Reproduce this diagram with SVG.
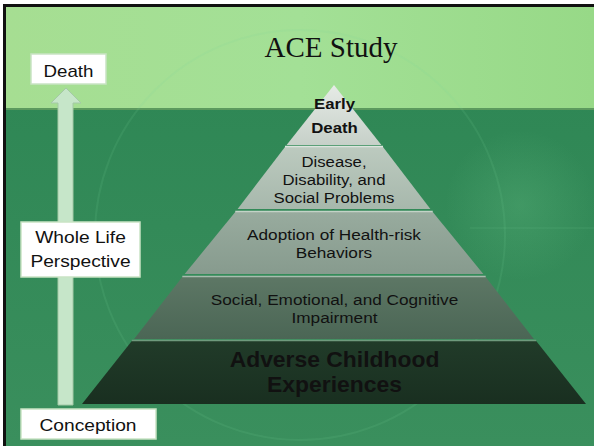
<svg xmlns="http://www.w3.org/2000/svg" width="594" height="446" viewBox="0 0 594 446">
<defs>
<style>
.sans{font-family:"Liberation Sans",Arial,sans-serif;fill:#111;}
.box{fill:#ffffff;stroke:#c9e3c4;stroke-width:1.5;}
.lvl{font-size:15.5px;}
.deco{fill:none;stroke:#7fd59a;stroke-opacity:0.12;stroke-width:2;}
</style>
<linearGradient id="band" x1="0" y1="0" x2="1" y2="0">
<stop offset="0" stop-color="#a6de92"/>
<stop offset="0.5" stop-color="#a3e096"/>
<stop offset="1" stop-color="#97d987"/>
</linearGradient>
<linearGradient id="dark" x1="0" y1="0" x2="0" y2="1">
<stop offset="0" stop-color="#2c8553"/>
<stop offset="1" stop-color="#3a8f5d"/>
</linearGradient>
<radialGradient id="blob" cx="0.5" cy="0.5" r="0.5">
<stop offset="0" stop-color="#6cc48a" stop-opacity="0.25"/>
<stop offset="1" stop-color="#6cc48a" stop-opacity="0"/>
</radialGradient>
<linearGradient id="g1" x1="0" y1="0" x2="0" y2="1"><stop offset="0" stop-color="#e6ebe6"/><stop offset="1" stop-color="#c6d0c8"/></linearGradient>
<linearGradient id="g2" x1="0" y1="0" x2="0" y2="1"><stop offset="0" stop-color="#bccabf"/><stop offset="1" stop-color="#a7b8ac"/></linearGradient>
<linearGradient id="g3" x1="0" y1="0" x2="0" y2="1"><stop offset="0" stop-color="#98ab9e"/><stop offset="1" stop-color="#879b8e"/></linearGradient>
<linearGradient id="g4" x1="0" y1="0" x2="0" y2="1"><stop offset="0" stop-color="#5d7765"/><stop offset="1" stop-color="#4b6655"/></linearGradient>
<linearGradient id="g5" x1="0" y1="0" x2="0" y2="1"><stop offset="0" stop-color="#213b29"/><stop offset="1" stop-color="#192f20"/></linearGradient>
</defs>

<g id="background">
<rect x="0" y="0" width="594" height="446" fill="#ffffff"/>
<rect x="6" y="6" width="588" height="440" fill="url(#dark)"/>
<rect x="6" y="6" width="588" height="103" fill="url(#band)"/>
<line x1="6" y1="109" x2="594" y2="109" stroke="#5c9a5e" stroke-width="2"/>
<circle class="deco" cx="300" cy="235" r="205"/>
<circle cx="520" cy="205" r="75" fill="url(#blob)"/>
<line x1="470" y1="228" x2="594" y2="228" stroke="#7fd59a" stroke-opacity="0.12" stroke-width="1.5"/>
<path d="M4.5 446 V5.5 H594" fill="none" stroke="#111" stroke-width="3"/>
</g>

<g id="title">
<text x="331" y="57" font-family="'Liberation Serif','Times New Roman',serif" font-size="29" fill="#111" text-anchor="middle">ACE Study</text>
</g>

<g id="connectors">
<path d="M58 405 V103 H51 L66 88 L81 103 H73 V405 Z" fill="#c6e6c9" stroke="#a4c9a6" stroke-width="1"/>
</g>

<g id="level5">
<polygon points="131.8,341 536.2,341 586,404 82,404" fill="url(#g5)"/>
<line x1="131.8" y1="340.5" x2="536.2" y2="340.5" stroke="#6f9a7d" stroke-width="1.6"/>
<text class="sans" font-weight="bold" font-size="22" text-anchor="middle" transform="translate(334.5,367) scale(1.04,1)"><tspan x="0" y="0">Adverse Childhood</tspan><tspan x="0" y="25">Experiences</tspan></text>
</g>

<g id="level4">
<polygon points="182.3,277 485.7,277 533.9,339 134.1,339" fill="url(#g4)"/>
<line x1="182.3" y1="276.5" x2="485.7" y2="276.5" stroke="#a7bcae" stroke-width="1.6"/>
<text class="sans lvl" text-anchor="middle" transform="translate(334.5,305) scale(1.11,1)"><tspan x="0" y="0">Social, Emotional, and Cognitive</tspan><tspan x="0" y="18">Impairment</tspan></text>
</g>

<g id="level3">
<polygon points="235.25,212 432.75,212 483.3,274 184.7,274" fill="url(#g3)"/>
<line x1="235.25" y1="211.5" x2="432.75" y2="211.5" stroke="#c3d3c7" stroke-width="1.6"/>
<text class="sans lvl" text-anchor="middle" transform="translate(334,240) scale(1.11,1)"><tspan x="0" y="0">Adoption of Health-risk</tspan><tspan x="0" y="18">Behaviors</tspan></text>
</g>

<g id="level2">
<polygon points="285,147 383,147 430.4,209 237.6,209" fill="url(#g2)"/>
<line x1="285" y1="146.5" x2="383" y2="146.5" stroke="#dce5de" stroke-width="1.6"/>
<text class="sans lvl" text-anchor="middle" transform="translate(334,167) scale(1.08,1)"><tspan x="0" y="0">Disease,</tspan><tspan x="0" y="18">Disability, and</tspan><tspan x="0" y="36">Social Problems</tspan></text>
</g>

<g id="level1">
<polygon points="334,85 381.4,145 286.6,145" fill="url(#g1)"/>
<text class="sans" font-weight="bold" font-size="15" text-anchor="middle" transform="translate(334.5,109) scale(1.12,1)"><tspan x="0" y="0">Early</tspan><tspan x="0" y="24">Death</tspan></text>
</g>

<g id="death-box">
<rect class="box" x="31" y="54" width="75" height="30"/>
<text class="sans" font-size="16" text-anchor="middle" transform="translate(68.5,77) scale(1.17,1)">Death</text>
</g>

<g id="whole-life-box">
<rect class="box" x="21" y="222" width="119" height="55"/>
<text class="sans" font-size="16" text-anchor="middle" transform="translate(80.5,243) scale(1.2,1)"><tspan x="0" y="0">Whole Life</tspan><tspan x="0" y="24">Perspective</tspan></text>
</g>

<g id="conception-box">
<rect class="box" x="21" y="409" width="135" height="30"/>
<text class="sans" font-size="16" text-anchor="middle" transform="translate(88,431) scale(1.2,1)">Conception</text>
</g>
</svg>
